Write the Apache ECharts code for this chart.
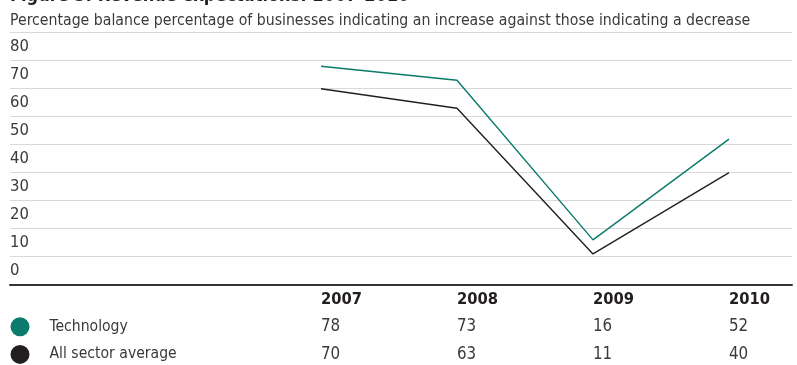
<!DOCTYPE html>
<html>
<head>
<meta charset="utf-8">
<script src="https://cdn.jsdelivr.net/npm/echarts@6/dist/echarts.min.js"></script>
<style>
  html, body { margin: 0; padding: 0; background: #fff; }
  #chart { width: 797px; height: 365px; }
</style>
</head>
<body>
<div id="chart"></div>
<script>
// Revenue expectations, percentage balance, 2007-2010
var years = ['2007', '2008', '2009', '2010'];
var technology = [78, 73, 16, 52];
var allSectorAverage = [70, 63, 11, 40];
var yTicks = [0, 10, 20, 30, 40, 50, 60, 70, 80, 90];

var FONT = '"DejaVu Sans Condensed", "Liberation Sans Narrow", "Liberation Sans", sans-serif';
var TEAL = '#0a7a6c';
var DARK = '#231f20';
var TEXT = '#3a3a3a';

var chart = echarts.init(document.getElementById('chart'), null, { renderer: 'canvas' });

// one category axis per table row, all hanging below the plot
function tableAxis(margin, bold, values) {
  return {
    gridIndex: 1, type: 'category', data: years, boundaryGap: true,
    position: 'bottom', offset: 0,
    axisLine: { show: false }, axisTick: { show: false }, splitLine: { show: false },
    axisLabel: {
      align: 'left', verticalAlign: 'middle', margin: margin,
      fontFamily: FONT, fontSize: bold ? 16.4 : 16.8,
      fontWeight: bold ? 'bold' : 'normal', color: bold ? DARK : TEXT,
      formatter: values ? function (v, i) { return String(values[i]); } : null
    }
  };
}

var option = {
  animation: false,
  backgroundColor: '#ffffff',
  title: [{
    text: 'Figure 3: Revenue expectations: 2007-2010',
    left: 10, top: -13, padding: 0,
    textStyle: { fontFamily: FONT, fontSize: 18, fontWeight: 'bold', color: DARK }
  }, {
    text: 'Percentage balance percentage of businesses indicating an increase against those indicating a decrease',
    left: 10, top: 12.5, padding: 0,
    textStyle: { fontFamily: FONT, fontSize: 15.7, fontWeight: 'normal', color: TEXT }
  }],
  legend: {
    orient: 'vertical',
    left: 10.5, top: 317.3, padding: 0,
    itemWidth: 19, itemHeight: 19,
    itemGap: 8.6,
    icon: 'circle',
    selectedMode: false,
    data: [
      { name: 'Technology', itemStyle: { color: TEAL } },
      { name: 'All sector average', itemStyle: { color: DARK } }
    ],
    textStyle: { fontFamily: FONT, fontSize: 15.6, color: TEXT, padding: [0, 0, 0, 15] }
  },
  grid: [
    // full-width frame for the value gridlines
    { left: 10, right: 5, top: 32.7, bottom: 80.3, containLabel: false, outerBoundsMode: 'none' },
    // plotting area for the yearly columns
    { left: 253, right: 0, top: 32.7, bottom: 80.3, containLabel: false, outerBoundsMode: 'none' }
  ],
  xAxis: [
    {
      gridIndex: 0, type: 'category', data: [''], position: 'bottom',
      axisLine: { show: true, lineStyle: { color: '#333', width: 2 } },
      axisTick: { show: false }, axisLabel: { show: false }, splitLine: { show: false }
    },
    tableAxis(14.6, true, null),
    tableAxis(42, false, technology),
    tableAxis(70.3, false, allSectorAverage)
  ],
  yAxis: [
    {
      gridIndex: 0, type: 'value',
      min: yTicks[0], max: yTicks[yTicks.length - 1], interval: 10,
      axisLine: { show: false }, axisTick: { show: false },
      splitLine: { show: true, lineStyle: { color: '#d9d9d9', width: 1 } },
      axisLabel: {
        inside: true, margin: 0, align: 'left', verticalAlign: 'bottom',
        padding: [0, 0, 5, 0],
        fontFamily: FONT, fontSize: 16.5, color: TEXT,
        formatter: function (v) { return v === 90 ? '' : String(v); }
      }
    },
    {
      gridIndex: 1, type: 'value',
      min: yTicks[0], max: yTicks[yTicks.length - 1], interval: 10,
      axisLine: { show: false }, axisTick: { show: false },
      axisLabel: { show: false }, splitLine: { show: false }
    }
  ],
  series: [
    {
      name: 'Technology', type: 'line',
      xAxisIndex: 1, yAxisIndex: 1,
      data: technology,
      symbol: 'none',
      lineStyle: { color: TEAL, width: 1.4 },
      itemStyle: { color: TEAL }
    },
    {
      name: 'All sector average', type: 'line',
      xAxisIndex: 1, yAxisIndex: 1,
      data: allSectorAverage,
      symbol: 'none',
      lineStyle: { color: DARK, width: 1.4 },
      itemStyle: { color: DARK }
    }
  ]
};

chart.setOption(option);
</script>
</body>
</html>
